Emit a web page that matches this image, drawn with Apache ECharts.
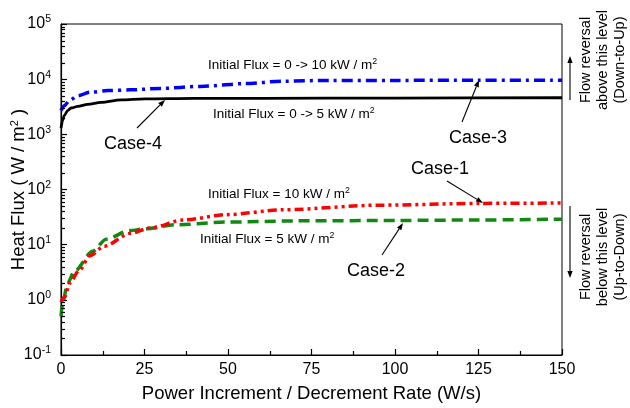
<!DOCTYPE html>
<html><head><meta charset="utf-8">
<script src="https://cdn.jsdelivr.net/npm/echarts@6/dist/echarts.min.js"></script>
<style>html,body{margin:0;padding:0;background:#fff}#c{width:630px;height:408px}</style>
</head><body><div id="c"></div>
<script>
// ---- data ----
const xTicks = [0, 25, 50, 75, 100, 125, 150];
const yTickExp = [-1, 0, 1, 2, 3, 4, 5];
const case4X = [0, 0.5, 1, 2, 3, 5, 8, 12, 18, 25, 40, 60, 100, 150];
const case4Y = [1300, 1800, 2200, 2700, 3000, 3200, 3500, 3800, 4200, 4400, 4500, 4500, 4550, 4600];
const case3X = [0, 1, 2.5, 5, 8.7, 14, 20.7, 30, 41.6, 55, 66.5, 80, 100, 125, 150];
const case3Y = [2700, 3300, 4100, 5000, 5800, 6200, 6400, 6800, 7400, 8300, 9200, 9500, 9500, 9600, 9600];
const case1X = [0, 1.2, 2.5, 5.6, 8.6, 13, 20.7, 26.7, 36.6, 49.7, 66.5, 95.5, 125, 150];
const case1Y = [0.9, 1.15, 2, 3.5, 6.3, 9.4, 16, 20, 28, 35, 43, 52, 56, 57];
const case2X = [0, 0.5, 2, 4, 9.5, 13.5, 20.5, 25.5, 34.5, 49.5, 70.5, 101, 125, 150];
const case2Y = [0.5, 0.9, 2, 3.3, 7.6, 12.6, 18, 19.5, 23, 25.7, 27, 27.5, 28, 29];

const pair = (xs, ys) => xs.map((x, i) => [x, ys[i]]);
const minorY = [];
for (let e = yTickExp[0]; e < yTickExp[yTickExp.length - 1]; e++)
  for (let m = 2; m <= 9; m++) minorY.push(m * Math.pow(10, e));

const FONT = 'Liberation Sans, Arial, sans-serif';
const chart = echarts.init(document.getElementById('c'));

function arrow(x1, y1, x2, y2) {
  const a = Math.atan2(y2 - y1, x2 - x1), L = 7, W = 2.6;
  const bx = x2 - L * Math.cos(a), by = y2 - L * Math.sin(a);
  const px = -Math.sin(a) * W, py = Math.cos(a) * W;
  return [
    {type: 'line', shape: {x1, y1, x2: bx, y2: by}, style: {stroke: '#000', lineWidth: 1.1}},
    {type: 'polygon', shape: {points: [[x2, y2], [bx + px, by + py], [bx - px, by - py]]}, style: {fill: '#000'}}
  ];
}
function txt(x, y, rich, size) {
  return {type: 'text', x, y, style: {text: rich, fontSize: size, fontFamily: FONT, fill: '#000',
    verticalAlign: 'middle', rich: {s: {fontSize: size * 0.65, fontFamily: FONT, fill: '#000', padding: [0, 0, size * 0.45, 0]}}}};
}

const graphics = [
  txt(208, 65, 'Initial Flux = 0 -> 10 kW / m{s|2}', 13.5),
  txt(213, 114, 'Initial Flux = 0 -> 5 kW / m{s|2}', 13.5),
  txt(208, 194, 'Initial Flux = 10 kW / m{s|2}', 13.5),
  txt(200, 239, 'Initial Flux = 5 kW / m{s|2}', 13.5),
  txt(104, 144, 'Case-4', 18),
  txt(449, 138, 'Case-3', 18),
  txt(411, 169, 'Case-1', 18),
  txt(347, 271, 'Case-2', 18),
  ...arrow(137, 128, 165, 100),
  ...arrow(462, 122, 479, 80),
  ...arrow(447, 181, 483, 203),
  ...arrow(382, 255, 403, 223),
  ...arrow(570, 100, 570, 56),
  ...arrow(570, 206, 570, 278),
  {type: 'text', x: 603, y: 60, rotation: Math.PI / 2, style: {text: 'Flow reversal\nabove this level\n(Down-to-Up)', fontSize: 14.5, lineHeight: 17, fontFamily: FONT, fill: '#000', align: 'center', verticalAlign: 'middle'}},
  {type: 'text', x: 603, y: 257, rotation: Math.PI / 2, style: {text: 'Flow reversal\nbelow this level\n(Up-to-Down)', fontSize: 14.5, lineHeight: 17, fontFamily: FONT, fill: '#000', align: 'center', verticalAlign: 'middle'}}
];

chart.setOption({
  animation: false,
  backgroundColor: '#fff',
  grid: {left: 61, right: 68, top: 24, bottom: 53, show: true, borderColor: '#000', borderWidth: 1,
    containLabel: false, outerBoundsMode: 'none'},
  xAxis: {
    type: 'value', min: xTicks[0], max: xTicks[xTicks.length - 1], interval: xTicks[1] - xTicks[0],
    name: 'Power Increment / Decrement Rate (W/s)', nameLocation: 'middle', nameGap: 29, nameMoveOverlap: false,
    nameTextStyle: {fontSize: 18.5, fontFamily: FONT, color: '#000'},
    axisLine: {lineStyle: {color: '#000', width: 1.2}},
    axisTick: {inside: true, length: 6, lineStyle: {color: '#000', width: 1.2}},
    minorTick: {show: true, splitNumber: 2, length: 4, lineStyle: {color: '#000', width: 1.2}},
    axisLabel: {fontSize: 16, fontFamily: FONT, color: '#000', margin: 7},
    splitLine: {show: false}
  },
  yAxis: {
    type: 'log', logBase: 10, min: Math.pow(10, yTickExp[0]), max: Math.pow(10, yTickExp[yTickExp.length - 1]),
    name: 'Heat Flux ( W / m{s|2} )', nameLocation: 'middle', nameGap: 32, nameRotate: 90, nameMoveOverlap: false,
    nameTextStyle: {fontSize: 18.5, fontFamily: FONT, color: '#000', rich: {s: {fontSize: 11, fontFamily: FONT, color: '#000', padding: [0, 0, 9, 0]}}},
    axisLine: {show: true, lineStyle: {color: '#000', width: 1.2}},
    axisTick: {inside: true, length: 6, lineStyle: {color: '#000', width: 1.2}},
    axisLabel: {
      fontSize: 16, fontFamily: FONT, color: '#000', margin: 10,
      formatter: v => '10{s|' + Math.round(Math.log10(v)) + '}',
      rich: {s: {fontSize: 10.5, fontFamily: FONT, color: '#000', padding: [0, 0, 9, 0]}}
    },
    splitLine: {show: false}
  },
  series: [
    {type: 'line', name: 'Case-4', data: pair(case4X, case4Y), showSymbol: false, smooth: 0.3, smoothMonotone: 'x',
      lineStyle: {color: '#000', width: 2.8, type: 'solid'}, z: 3},
    {type: 'line', name: 'Case-3', data: pair(case3X, case3Y), showSymbol: false, smooth: 0.3, smoothMonotone: 'x',
      lineStyle: {color: '#0000ff', width: 3.5, type: [11, 5, 3, 5]}, z: 4},
    {type: 'line', name: 'Case-1', data: pair(case1X, case1Y), showSymbol: false, smooth: 0.3, smoothMonotone: 'x',
      lineStyle: {color: '#ff0000', width: 3.5, type: [9, 4, 3, 4, 3, 4]}, z: 4},
    {type: 'line', name: 'Case-2', data: pair(case2X, case2Y), showSymbol: false, smooth: 0.3, smoothMonotone: 'x',
      lineStyle: {color: '#118811', width: 3.5, type: [11, 6]}, z: 3}
  ],
  graphic: graphics
});

// minor log ticks on the left axis, positioned through the chart's own scale
const minorLines = minorY.map(v => {
  const p = chart.convertToPixel({xAxisIndex: 0, yAxisIndex: 0}, [xTicks[0], v]);
  const y = Math.round(p[1]) + 0.5;
  return {type: 'line', z: 100, silent: true, shape: {x1: p[0], y1: y, x2: p[0] + 4, y2: y}, style: {stroke: '#000', lineWidth: 1.2}};
});
chart.setOption({graphic: graphics.concat(minorLines)});
</script>
</body></html>
